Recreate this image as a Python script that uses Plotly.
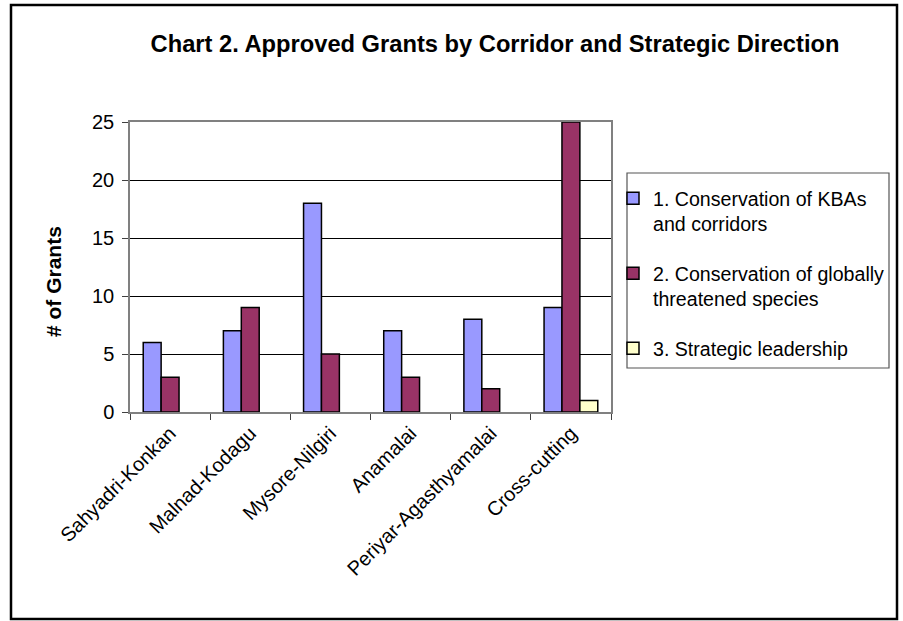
import plotly.graph_objects as go

categories = ["Sahyadri-Konkan", "Malnad-Kodagu", "Mysore-Nilgiri", "Anamalai",
              "Periyar-Agasthyamalai", "Cross-cutting"]
series_names = ["1. Conservation of KBAs<br>and corridors",
                "2. Conservation of globally<br>threatened species",
                "3. Strategic leadership"]
kba_corridors = [6, 7, 18, 7, 8, 9]
threatened_species = [3, 9, 5, 3, 2, 25]
strategic_leadership = [0, 0, 0, 0, 0, 1]
y_ticks = [0, 5, 10, 15, 20, 25]

colors = ["#9999FF", "#993366", "#FFFFCC"]
FONT = "Liberation Sans, Arial, sans-serif"

W, H = 903, 621
L, R, T, B = 130, 611, 122, 412  # plot area in px


def px_x(x):
    return (x - L) / (R - L)


def px_y(y):
    return (B - y) / (B - T)


fig = go.Figure()
for i, (name, vals) in enumerate(zip(series_names,
                                     [kba_corridors, threatened_species, strategic_leadership])):
    fig.add_trace(go.Bar(
        x=categories, y=[v if v else None for v in vals], name=name,
        marker=dict(color=colors[i], line=dict(color="black", width=1.5)),
        legendgroup=f"g{i}",
    ))

fig.update_layout(
    width=W, height=H,
    margin=dict(l=L, r=W - R, t=T, b=H - B, autoexpand=False),
    paper_bgcolor="white", plot_bgcolor="white",
    barmode="group", bargap=0.33, bargroupgap=0,
    font=dict(family=FONT, size=20, color="black"),
    title=dict(text="<b>Chart 2. Approved Grants by Corridor and Strategic Direction</b>",
               x=495 / W, xref="container", xanchor="center",
               y=1 - 44 / H, yref="container", yanchor="middle",
               font=dict(family=FONT, size=23.7, color="black")),
    legend=dict(x=px_x(613), y=px_y(179), xanchor="left", yanchor="top",
                bgcolor="rgba(0,0,0,0)", borderwidth=0,
                font=dict(family=FONT, size=19.6, color="black"),
                valign="top", tracegroupgap=21, itemclick=False),
    showlegend=True,
)

fig.update_xaxes(
    type="category", showline=True, linecolor="#808080", linewidth=1.5, mirror=True,
    ticks="outside", tickson="boundaries", ticklen=6, tickcolor="#404040",
    tickangle=-45, tickfont=dict(family=FONT, size=20, color="black"),
    showgrid=False, zeroline=False,
)
fig.update_yaxes(
    range=[0, 25], tickvals=y_ticks, showline=True, linecolor="#808080", linewidth=1.5,
    mirror=True, ticks="outside", ticklen=6, tickcolor="#404040", ticklabelstandoff=4,
    showgrid=True, gridcolor="black", gridwidth=1, zeroline=False,
    tickfont=dict(family=FONT, size=20, color="black"),
)

# y-axis title
fig.add_annotation(text="<b># of Grants</b>", xref="paper", yref="paper",
                   x=px_x(53), y=px_y(282), textangle=-90, showarrow=False,
                   font=dict(family=FONT, size=21, color="black"),
                   xanchor="center", yanchor="middle")

# legend box
fig.add_shape(type="rect", xref="paper", yref="paper",
              x0=px_x(627), x1=px_x(889), y0=px_y(368), y1=px_y(173),
              line=dict(color="#555555", width=1.2), fillcolor="rgba(0,0,0,0)", layer="below")

# outer chart border
fig.add_shape(type="rect", xref="paper", yref="paper",
              x0=px_x(11), x1=px_x(897), y0=px_y(619), y1=px_y(5),
              line=dict(color="black", width=2.5), fillcolor="rgba(0,0,0,0)", layer="below")

fig.write_html("out.html", config={"displayModeBar": False},
               post_script="document.body.style.margin='0';document.body.style.overflow='hidden';")
